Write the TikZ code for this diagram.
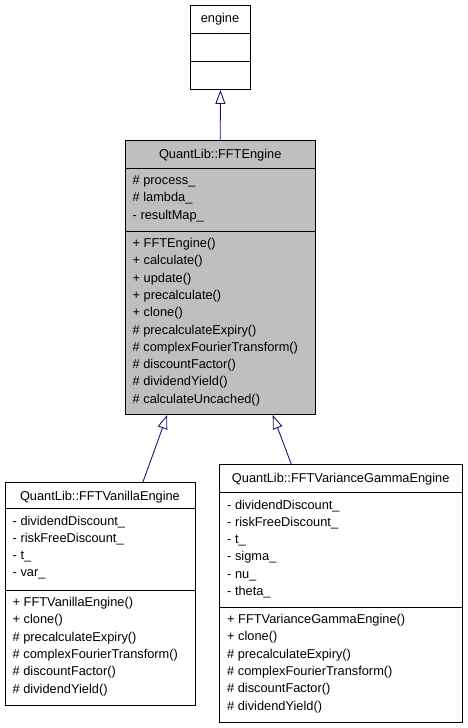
\documentclass[tikz,border=0pt]{standalone}
\usepackage{fontspec}
\setmainfont{Liberation Sans}
\usetikzlibrary{arrows.meta}
\definecolor{class gray}{RGB}{191,191,191}
\definecolor{edge blue}{RGB}{25,25,112}
\tikzset{
	classbox/.style = {draw=black, line width=0.9pt, inner sep=0pt, anchor=north west},
	classname/.style = {anchor=base, inner sep=0pt},
	% base of a multi-line node is the baseline of its last line
	members/.style = {anchor=base west, inner sep=0pt, align=left},
	inherit/.style = {draw=edge blue, line width=0.9pt,
		-{Triangle[open, fill=white, length=14pt, width=10pt]}}
}
\begin{document}
\begin{tikzpicture}[x=1pt, y=-1pt, font=\fontsize{12.8}{17.3}\selectfont]
		\useasboundingbox (0, 0) rectangle (467, 728);
		% base class engine
		\begin{scope}
			\node[classbox, minimum width=60pt, minimum height=84pt] (engine) at (190, 5) {};
			\draw[line width=0.9pt]
				(engine.west |- 0, 33.5) -- (engine.east |- 0, 33.5)
				(engine.west |- 0, 61.5) -- (engine.east |- 0, 61.5);
			\node[classname] (engineName) at (220, 22) {engine};
		\end{scope}
		% QuantLib::FFTEngine
		\begin{scope}
			\node[classbox, fill=class gray, minimum width=190.5pt, minimum height=274pt] (fft) at (124.5, 140) {};
			\draw[line width=0.9pt]
				(fft.west |- 0, 168) -- (fft.east |- 0, 168)
				(fft.west |- 0, 231) -- (fft.east |- 0, 231);
			\node[classname] (fftName) at (fft.north |- 0, 158) {QuantLib::FFTEngine};
			\node[members] (fftAttr) at (132.5, 219.1)
				{\# process\_\\ \# lambda\_\\ - resultMap\_};
			\node[members] (fftOps) at (132.5, 403.2)
				{+ FFTEngine()\\ + calculate()\\ + update()\\ + precalculate()\\ + clone()\\
				 \# precalculateExpiry()\\ \# complexFourierTransform()\\ \# discountFactor()\\
				 \# dividendYield()\\ \# calculateUncached()};
		\end{scope}
		% QuantLib::FFTVanillaEngine
		\begin{scope}
			\node[classbox, minimum width=190pt, minimum height=223pt] (vanilla) at (4.5, 482) {};
			\draw[line width=0.9pt]
				(vanilla.west |- 0, 508.5) -- (vanilla.east |- 0, 508.5)
				(vanilla.west |- 0, 590) -- (vanilla.east |- 0, 590);
			\node[classname] (vanillaName) at (vanilla.north |- 0, 500) {QuantLib::FFTVanillaEngine};
			\node[members] (vanillaAttr) at (12.5, 576.9)
				{- dividendDiscount\_\\ - riskFreeDiscount\_\\ - t\_\\ - var\_};
			\node[members] (vanillaOps) at (12.5, 693)
				{+ FFTVanillaEngine()\\ + clone()\\ \# precalculateExpiry()\\
				 \# complexFourierTransform()\\ \# discountFactor()\\ \# dividendYield()};
		\end{scope}
		% QuantLib::FFTVarianceGammaEngine
		\begin{scope}
			\node[classbox, minimum width=242.5pt, minimum height=258pt] (gamma) at (219, 464) {};
			\draw[line width=0.9pt]
				(gamma.west |- 0, 492.5) -- (gamma.east |- 0, 492.5)
				(gamma.west |- 0, 607) -- (gamma.east |- 0, 607);
			\node[classname] (gammaName) at (gamma.north |- 0, 482) {QuantLib::FFTVarianceGammaEngine};
			\node[members] (gammaAttr) at (227, 595.5)
				{- dividendDiscount\_\\ - riskFreeDiscount\_\\ - t\_\\ - sigma\_\\ - nu\_\\ - theta\_};
			\node[members] (gammaOps) at (227, 710)
				{+ FFTVarianceGammaEngine()\\ + clone()\\ \# precalculateExpiry()\\
				 \# complexFourierTransform()\\ \# discountFactor()\\ \# dividendYield()};
		\end{scope}
		% inheritance arrows
		\draw[inherit] (fft.north) -- (engine.south);
		\draw[inherit] ([xshift=43pt]vanilla.north) -- ([xshift=-53pt]fft.south);
		\draw[inherit] ([xshift=-49.5pt]gamma.north) -- ([xshift=52.5pt]fft.south);
	\end{tikzpicture}
\end{document}
